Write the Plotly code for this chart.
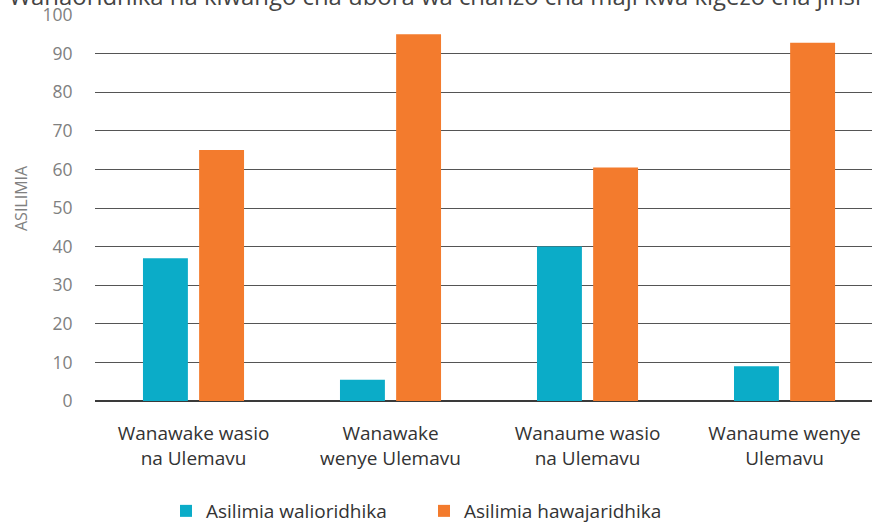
import plotly.graph_objects as go

categories = ["Wanawake wasio<br>na Ulemavu", "Wanawake<br>wenye Ulemavu",
              "Wanaume wasio<br>na Ulemavu", "Wanaume wenye<br>Ulemavu"]
satisfied = [37, 5.5, 40, 9]
unsatisfied = [65, 95, 60.5, 92.8]
series_names = ["Asilimia walioridhika", "Asilimia hawajaridhika"]
y_ticks = [0, 10, 20, 30, 40, 50, 60, 70, 80, 90, 100]
title_text = "Wanaoridhika na kiwango cha ubora wa chanzo cha maji kwa kigezo cha jinsi"
y_title = "ASILIMIA"

FONT = "Open Sans"
CYAN = "#0BACC8"
ORANGE = "#F37B2D"

fig = go.Figure()
fig.add_trace(go.Bar(x=categories, y=satisfied, name=series_names[0],
                     marker=dict(color=CYAN, line=dict(width=0))))
fig.add_trace(go.Bar(x=categories, y=unsatisfied, name=series_names[1],
                     marker=dict(color=ORANGE, line=dict(width=0))))

fig.update_layout(
    width=872, height=523,
    margin=dict(l=95, r=0, t=15, b=122, autoexpand=False),
    paper_bgcolor="white", plot_bgcolor="white",
    barmode="group", bargap=0.43, bargroupgap=0.2,
    font=dict(family=FONT, color="#333333"),
    showlegend=True,
    legend=dict(orientation="h", x=(166 - 95) / 777, xanchor="left", y=-0.285, yanchor="middle",
                font=dict(size=19, color="#333333", family=FONT),
                itemwidth=30, entrywidth=213, entrywidthmode="pixels",
                traceorder="normal", bgcolor="rgba(0,0,0,0)"),
    xaxis=dict(type="category", range=[-0.5, 3.444], showgrid=False, automargin=False,
               showline=False, ticks="outside", ticklen=15, tickcolor="rgba(0,0,0,0)",
               tickfont=dict(size=19, color="#333333", family=FONT),
               fixedrange=True),
    yaxis=dict(range=[0, 100], tickvals=y_ticks, showgrid=True, automargin=False,
               gridcolor="#555555", gridwidth=1.2,
               zeroline=True, zerolinecolor="#3a3a3a", zerolinewidth=2,
               showline=False, ticks="outside", ticklen=18, tickcolor="rgba(0,0,0,0)",
               tickfont=dict(size=17.5, color="#808080", family=FONT)),
    annotations=[
        dict(text=title_text, xref="paper", yref="paper",
             x=(7 - 95) / 777, xanchor="left", y=1 + 20 / 386,
             yanchor="middle", showarrow=False,
             font=dict(size=23.9, color="#444444", family=FONT)),
        dict(text=y_title, xref="paper", yref="paper", textangle=-90,
             x=(21 - 95) / 777, xanchor="center", y=(401 - 198) / 386,
             yanchor="middle", showarrow=False,
             font=dict(size=16, color="#808080", family=FONT)),
    ],
)

fig.write_html("out.html", config={"displayModeBar": False},
               post_script="document.body.style.margin='0';document.body.style.overflow='hidden';")
